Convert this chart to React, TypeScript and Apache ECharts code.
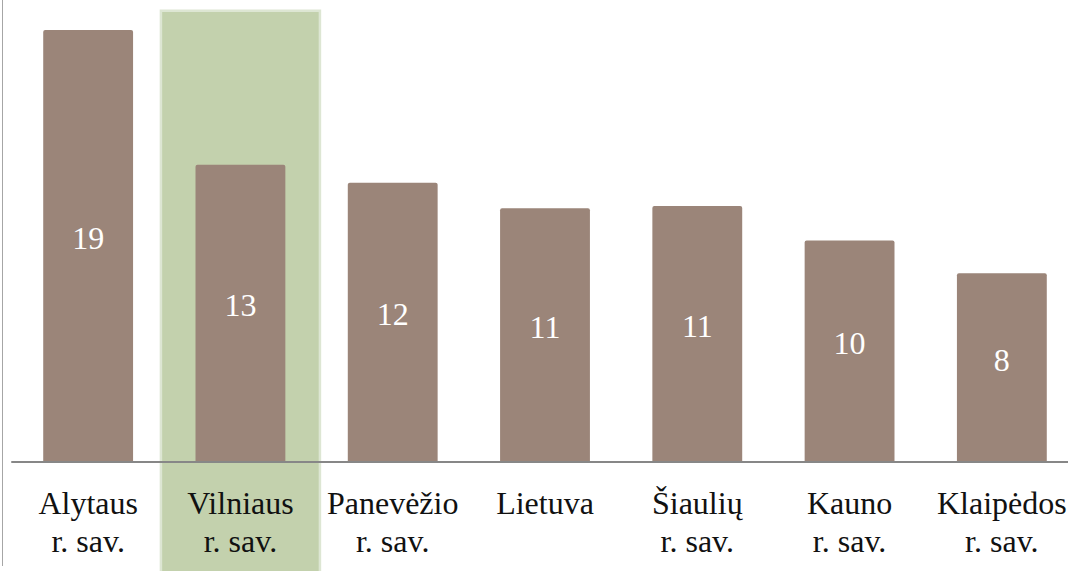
import React, { useEffect, useRef } from "react";
import * as echarts from "echarts";

const categories = [
  "Alytaus\nr. sav.",
  "Vilniaus\nr. sav.",
  "Panevėžio\nr. sav.",
  "Lietuva",
  "Šiaulių\nr. sav.",
  "Kauno\nr. sav.",
  "Klaipėdos\nr. sav.",
];
const values = [18.95, 13.04, 12.25, 11.13, 11.23, 9.71, 8.28];
const highlightIndex = 1;

const FONT = "'Liberation Serif', serif";

export default function App() {
  const ref = useRef<HTMLDivElement>(null);
  useEffect(() => {
    if (!ref.current) return;
    const chart = echarts.init(ref.current, null, { renderer: "svg" });
    chart.setOption({
      animation: false,
      backgroundColor: "#ffffff",
      grid: { left: 12, right: 0, top: 6, bottom: 109, containLabel: false },
      xAxis: {
        type: "category",
        data: categories,
        z: 3,
        axisLine: { show: true, lineStyle: { color: "#878787", width: 2 } },
        axisTick: { show: false },
        axisLabel: {
          interval: 0,
          margin: 22,
          color: "#111111",
          fontFamily: FONT,
          fontSize: 32,
          lineHeight: 38,
        },
      },
      yAxis: {
        type: "value",
        min: 0,
        max: 20,
        show: false,
        splitLine: { show: false },
      },
      series: [
        {
          type: "bar",
          data: values,
          barWidth: "59%",
          z: 2,
          itemStyle: { color: "#9b8579", borderRadius: [2, 2, 0, 0] },
          label: {
            show: true,
            position: "inside",
            offset: [0, -8],
            color: "#ffffff",
            fontFamily: FONT,
            fontSize: 32,
            formatter: (p: any) => String(Math.round(p.value)),
          },
        },
      ],
    });
    const cx = chart.convertToPixel({ xAxisIndex: 0 }, categories[highlightIndex]) as number;
    chart.setOption({
      graphic: [
        {
          type: "rect",
          z: -1,
          silent: true,
          shape: { x: cx - 79.5, y: 10.75, width: 159, height: 600 },
          style: { fill: "#c3d1ad", stroke: "#dde6d3", lineWidth: 2.5 },
        },
        {
          type: "line",
          z: -1,
          silent: true,
          shape: { x1: 2.5, y1: 0, x2: 2.5, y2: 566 },
          style: { stroke: "#a6a6a6", lineWidth: 1 },
        },
      ],
    });
    return () => chart.dispose();
  }, []);
  return (
    <div
      ref={ref}
      style={{ position: "fixed", left: 0, top: 0, width: 1078, height: 571 }}
    />
  );
}
